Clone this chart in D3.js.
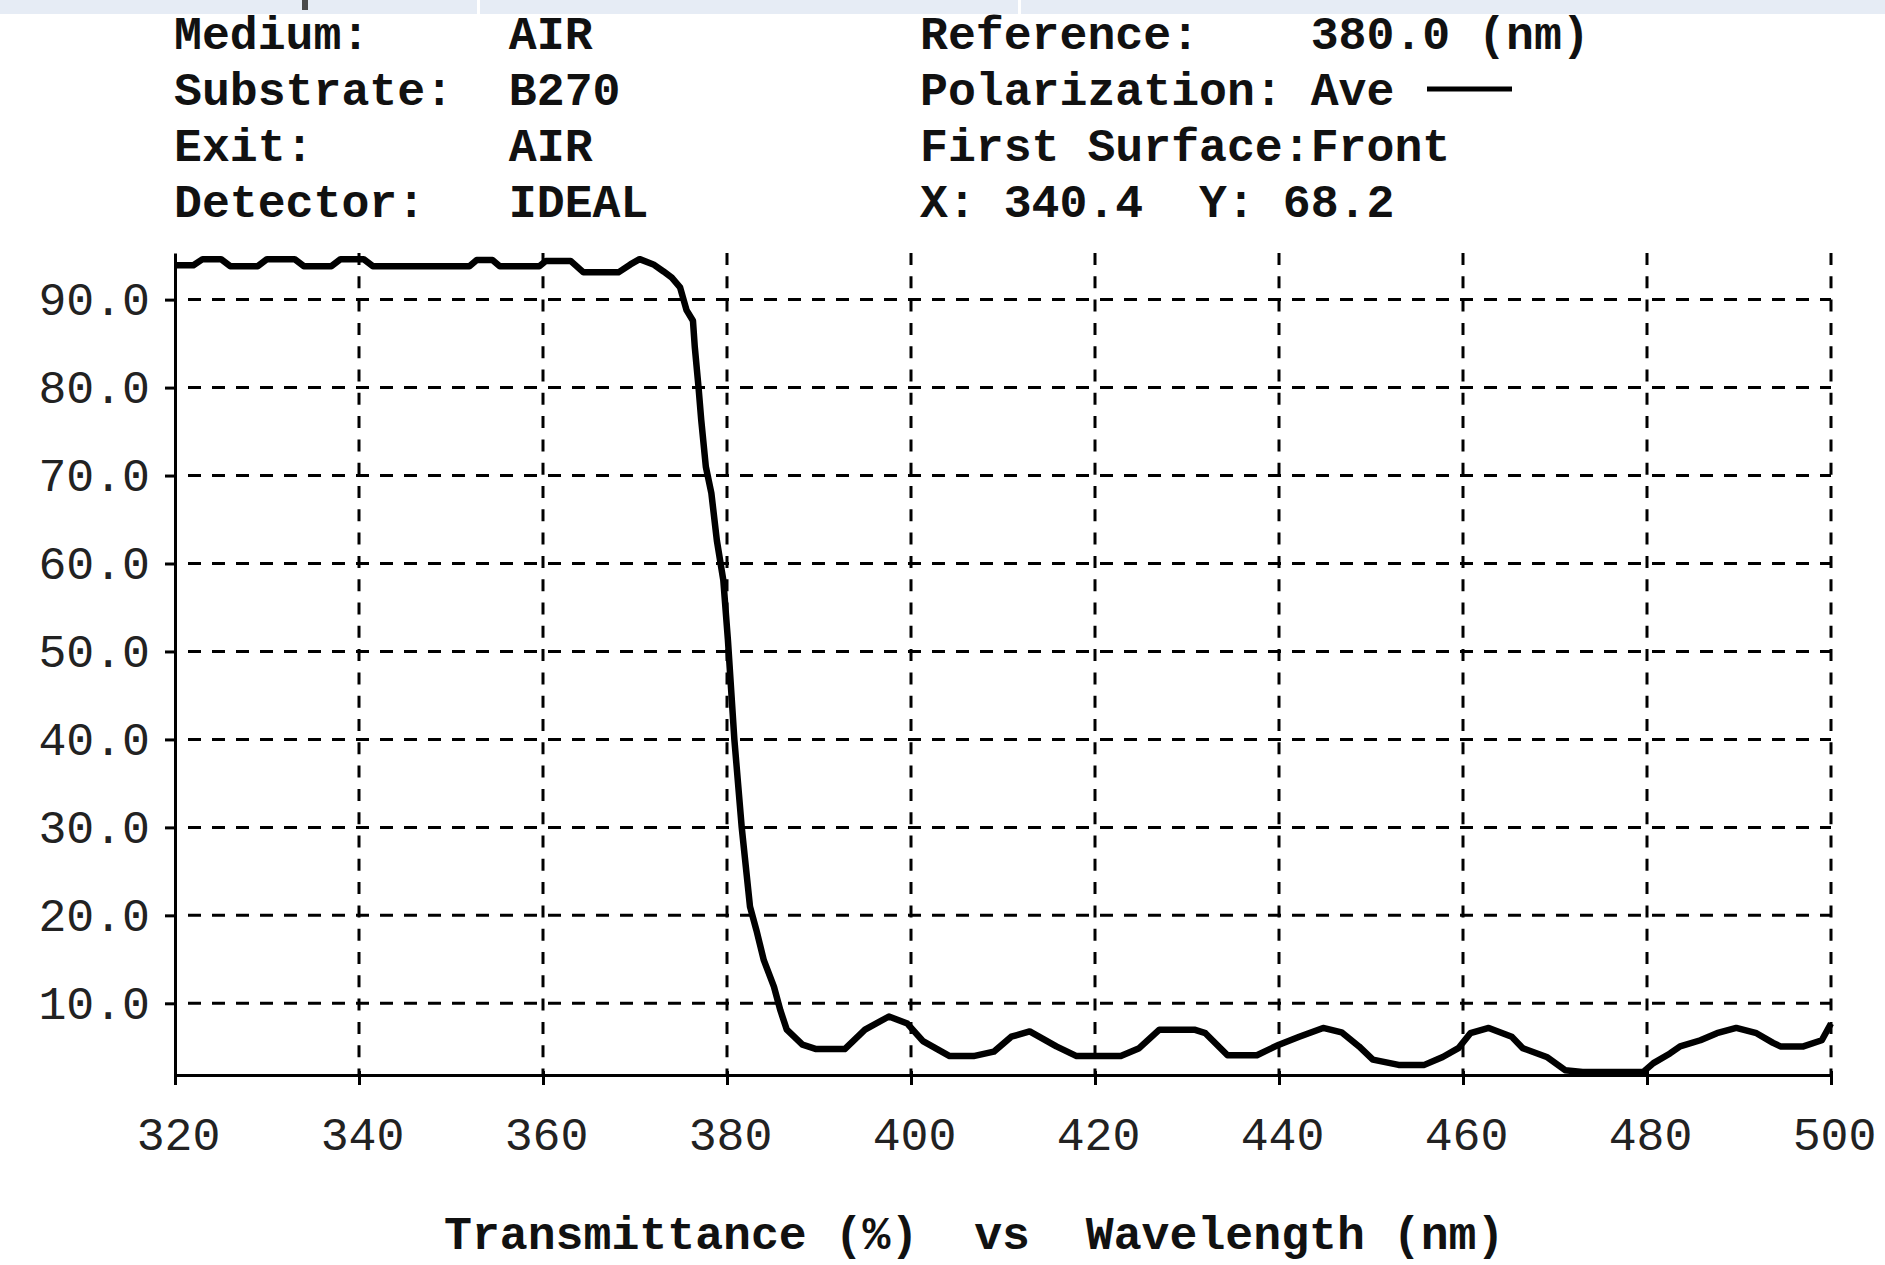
<!DOCTYPE html>
<meta charset="utf-8">
<style>
body { margin: 0; background: #fff; }
svg text { font-family: "Liberation Mono", "Courier New", monospace; white-space: pre; }
.head text { font-size: 46.5px; font-weight: bold; fill: #111; }
.axis text { font-size: 46.5px; fill: #222; }
.axis path, .axis line { stroke: #000; stroke-width: 3; }
.grid line { stroke: #000; stroke-width: 3; }
</style>
<svg width="1885" height="1265"></svg>
<script src="https://d3js.org/d3.v7.min.js"></script>
<script>

var wavelength = [320, 322, 323, 325, 326, 329, 330, 333, 334, 337, 338, 340.5, 341.5, 352, 352.8, 354.5,
  355.3, 359.6, 360.3, 363, 364.4, 368.2, 369.5, 370.5, 372, 373.1, 374, 374.9, 375.6, 376.3, 376.5,
  376.9, 377.2, 377.7, 378.3, 378.9, 379.6, 380.1, 380.8, 381.6, 382.5, 383.2, 384, 385.1, 385.8, 386.5,
  388.2, 389.7, 392.8, 395, 397.6, 399.6, 401.3, 404.2, 406.8, 409, 410.9, 412.9, 415.8, 418, 422.8,
  424.8, 427, 430.8, 432, 434.4, 437.6, 440, 442.2, 444.8, 446.8, 448.7, 450.2, 453, 455.8, 457.8,
  459.5, 460.8, 462.8, 465.3, 466.5, 469.1, 471.1, 473, 479.6, 480.7, 482.5, 483.6, 485.8, 487.6,
  489.7, 491.9, 493.7, 494.5, 497, 499, 500];
var transmittance = [93.9, 93.9, 94.6, 94.6, 93.8, 93.8, 94.6, 94.6, 93.8, 93.8, 94.6, 94.6, 93.8, 93.8, 94.5, 94.5,
  93.8, 93.8, 94.4, 94.4, 93.1, 93.1, 94.0, 94.6, 94.0, 93.2, 92.5, 91.4, 88.8, 87.6, 84.6,
  80.1, 76.3, 71.0, 68.0, 62.6, 58.1, 51.3, 40, 30, 21, 18.3, 14.9, 11.9, 9.2, 7.0,
  5.3, 4.8, 4.8, 7.0, 8.5, 7.7, 5.7, 4.0, 4.0, 4.5, 6.2, 6.8, 5.1, 4.0, 4.0,
  4.9, 7.0, 7.0, 6.6, 4.1, 4.1, 5.3, 6.2, 7.2, 6.7, 5.1, 3.6, 3.0, 3.0, 3.9,
  4.9, 6.6, 7.2, 6.2, 4.9, 3.9, 2.4, 2.2, 2.2, 3.2, 4.3, 5.1, 5.8, 6.6,
  7.2, 6.6, 5.5, 5.1, 5.1, 5.8, 7.7];

var xTicks = [320, 340, 360, 380, 400, 420, 440, 460, 480, 500];
var yTicks = [10, 20, 30, 40, 50, 60, 70, 80, 90];
var xDomain = [320, 500];
var yDomain = [1.85, 95.3];

var headLeft = ["Medium:     AIR", "Substrate:  B270", "Exit:       AIR", "Detector:   IDEAL"];
var headRight = ["Reference:    380.0 (nm)", "Polarization: Ave", "First Surface:Front", "X: 340.4  Y: 68.2"];
var axisTitle = "Transmittance (%)  vs  Wavelength (nm)";

var svg = d3.select("svg"),
    width = +svg.attr("width"),
    height = +svg.attr("height");

var x = d3.scaleLinear().domain(xDomain).range([175, 1831]);
var y = d3.scaleLinear().domain(yDomain).range([1075, 253]);

// window chrome strip at the top
svg.append("rect").attr("x", 0).attr("y", 0).attr("width", width).attr("height", 14).attr("fill", "#e6ecf5");
svg.append("rect").attr("x", 477).attr("y", 0).attr("width", 3).attr("height", 14).attr("fill", "#fff");
svg.append("rect").attr("x", 1018).attr("y", 0).attr("width", 3).attr("height", 14).attr("fill", "#fff");
svg.append("rect").attr("x", 302).attr("y", 0).attr("width", 6).attr("height", 10).attr("fill", "#4a4a4a");

// header block
var head = svg.append("g").attr("class", "head");
head.selectAll(".hl").data(headLeft).enter().append("text")
    .attr("x", 174).attr("y", function(d, i) { return 49 + i * 56; })
    .text(function(d) { return d; });
head.selectAll(".hr").data(headRight).enter().append("text")
    .attr("x", 920).attr("y", function(d, i) { return 49 + i * 56; })
    .text(function(d) { return d; });
head.append("line")
    .attr("x1", 1427).attr("x2", 1512).attr("y1", 89).attr("y2", 89)
    .attr("stroke", "#000").attr("stroke-width", 5);

// grid
var grid = svg.append("g").attr("class", "grid");
grid.selectAll(".h").data(yTicks).enter().append("line")
    .attr("x1", x(xDomain[0]) + 13).attr("x2", x(xDomain[1]))
    .attr("y1", function(d) { return y(d); }).attr("y2", function(d) { return y(d); })
    .attr("stroke-dasharray", "13,11");
grid.selectAll(".v").data(xTicks.slice(1)).enter().append("line")
    .attr("x1", function(d) { return x(d); }).attr("x2", function(d) { return x(d); })
    .attr("y1", y(yDomain[1])).attr("y2", y(yDomain[0]))
    .attr("stroke-dasharray", "12,11.3");

// axes
var yAxis = svg.append("g").attr("class", "axis")
    .attr("transform", "translate(" + x(xDomain[0]) + ",0)")
    .call(d3.axisLeft(y).tickValues(yTicks).tickSize(10).tickSizeOuter(0).tickPadding(15)
      .tickFormat(d3.format(".1f")));

var xAxis = svg.append("g").attr("class", "axis")
    .attr("transform", "translate(0," + y(yDomain[0]) + ")")
    .call(d3.axisBottom(x).tickValues(xTicks).tickSize(10).tickSizeOuter(0).tickPadding(32)
      .tickFormat(d3.format("d")));
xAxis.selectAll(".tick line").attr("y1", -4);
xAxis.selectAll(".tick text").attr("dx", 3);

svg.selectAll(".axis .domain").attr("fill", "none");
svg.selectAll(".axis text").attr("font-family", null).attr("font-size", null);

// curve
var pts = wavelength.map(function(w, i) { return [w, transmittance[i]]; });
svg.append("path")
    .datum(pts)
    .attr("fill", "none")
    .attr("stroke", "#000")
    .attr("stroke-width", 6.5)
    .attr("stroke-linejoin", "round")
    .attr("d", d3.line().x(function(d) { return x(d[0]); }).y(function(d) { return y(d[1]); }));

// axis title
svg.append("text")
    .attr("class", "title")
    .attr("x", 444).attr("y", 1249)
    .style("font-size", "46.5px").style("font-weight", "bold").attr("fill", "#111")
    .text(axisTitle);

</script>
